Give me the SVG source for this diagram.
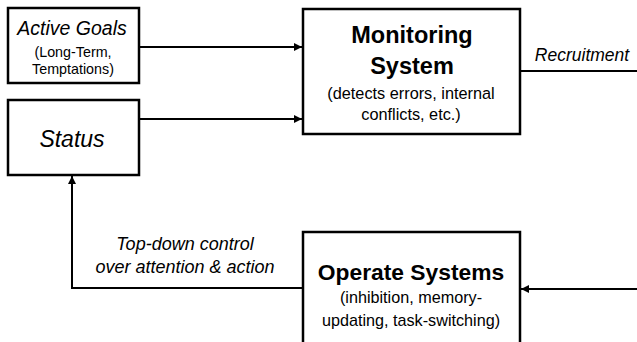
<svg xmlns="http://www.w3.org/2000/svg" width="637" height="342" viewBox="0 0 637 342">
<style>
.box{fill:#fff;stroke:#000;stroke-width:2.5}
.ln{fill:none;stroke:#000;stroke-width:2}
text{font-family:"Liberation Sans",Arial,sans-serif;fill:#000;text-anchor:middle}
.it{font-style:italic}
.b{font-weight:bold}
</style>
<defs>
<marker id="ah" viewBox="0 0 10 10" refX="10" refY="5" markerWidth="4" markerHeight="4" orient="auto-start-reverse" markerUnits="strokeWidth">
<path d="M0,0 L10,5 L0,10 z" fill="#000"/>
</marker>
</defs>
<g id="connectors">
<line class="ln" x1="140" y1="47" x2="302" y2="47" marker-end="url(#ah)"/>
<line class="ln" x1="140" y1="119" x2="302" y2="119" marker-end="url(#ah)"/>
<line class="ln" x1="521" y1="71" x2="637" y2="71"/>
<line class="ln" x1="637" y1="289" x2="521" y2="289" marker-end="url(#ah)"/>
<polyline class="ln" points="303,288 72,288 72,176" marker-end="url(#ah)"/>
<text class="it" x="582" y="61" font-size="17.5">Recruitment</text>
<text class="it" x="185" y="250" font-size="18">Top-down control</text>
<text class="it" x="185" y="273" font-size="18">over attention &amp; action</text>
</g>
<g id="active-goals">
<rect class="box" x="8" y="8" width="131" height="75"/>
<text class="it" x="72" y="35" font-size="19.5">Active Goals</text>
<text x="73" y="57" font-size="14.3">(Long-Term,</text>
<text x="73" y="74" font-size="14.3">Temptations)</text>
</g>
<g id="status">
<rect class="box" x="8" y="100" width="131" height="75"/>
<text class="it" x="72" y="147" font-size="23">Status</text>
</g>
<g id="monitoring">
<rect class="box" x="303" y="9" width="217" height="125"/>
<text class="b" x="412" y="43" font-size="23.5">Monitoring</text>
<text class="b" x="412" y="74" font-size="23.5">System</text>
<text x="411" y="99" font-size="16.3">(detects errors, internal</text>
<text x="411" y="120" font-size="16.3">conflicts, etc.)</text>
</g>
<g id="operate">
<rect class="box" x="303" y="232" width="217" height="120"/>
<text class="b" x="411" y="280" font-size="22.8">Operate Systems</text>
<text x="411" y="303" font-size="16.2">(inhibition, memory-</text>
<text x="411" y="326" font-size="16.2">updating, task-switching)</text>
</g>
</svg>
